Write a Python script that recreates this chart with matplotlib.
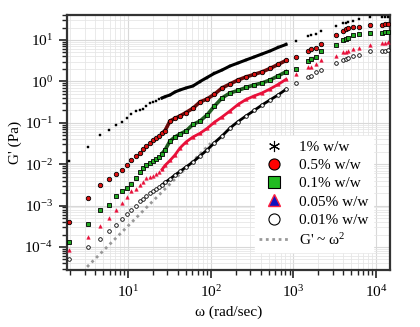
import matplotlib
matplotlib.use("Agg")
import matplotlib.pyplot as plt
from matplotlib.lines import Line2D
from matplotlib.ticker import LogLocator, NullFormatter

plt.rcParams["font.family"] = ["Liberation Serif", "DejaVu Serif"]
plt.rcParams["mathtext.fontset"] = "custom"
plt.rcParams["mathtext.rm"] = "Liberation Serif"
plt.rcParams["mathtext.it"] = "Liberation Serif:italic"

# frecuencias (rad/s): barrido bajo, zona densa, zona alta
omega = [1.95, 3.26, 4.55, 5.85, 7.1, 8.4, 9.73, 11.0, 12.4, 13.8, 15.2, 16.7, 18.5, 20.1, 21.8, 23.7, 25.8,
         28, 32.2, 37, 42.5, 50.3, 61, 74.2, 90.2, 110, 137, 171, 214, 267, 334, 417, 521, 651, 814,
         1070, 1520, 1630, 1850, 2160, 3230, 3930, 4270, 4570, 5260, 6130, 8430, 11600, 12800, 13900]

g_1 = [0.0122, 0.026, 0.0507, 0.067, 0.0885, 0.1045, 0.128, 0.163, 0.19, 0.204, 0.219, 0.255, 0.296, 0.318, 0.342, 0.37, 0.397,
       0.427, 0.469, 0.555, 0.62, 0.693, 0.774, 0.99, 1.24, 1.55, 1.88, 2.35, 2.78, 3.29, 3.88, 4.59, 5.42, 6.59, 7.79,
       9.3, 12.3, 13.0, 14.0, 16.5, 22.1, 25.3, 26.2, 27.2, 28.8, 31.3, 34.9, 35.3, 35.9, 35.9]
g_05 = [3.95e-4, 1.55e-3, 3.2e-3, 4.47e-3, 5.7e-3, 7.24e-3, 9.57e-3, 0.0126, 0.0162, 0.019, 0.0233, 0.0275, 0.032, 0.0374, 0.043, 0.048, 0.0557,
        0.0645, 0.11, 0.128, 0.146, 0.177, 0.224, 0.318, 0.376, 0.483, 0.693, 0.865, 1.08, 1.28, 1.47, 1.69, 2.05, 2.56, 3.2,
        3.82, 5.42, 5.96, 6.52, 8.2, 13.0, 16.8, 18.1, 19.0, 20.6, 20.9, 22.4, 23.4, 23.9, 23.9]
g_01 = [1.34e-4, 3.53e-4, 7.7e-4, 1.06e-3, 1.71e-3, 2.25e-3, 2.66e-3, 3.27e-3, 4.64e-3, 6.48e-3, 7.96e-3, 9.3e-3, 0.0107, 0.0119, 0.013, 0.0149, 0.0181,
        0.022, 0.0363, 0.0454, 0.0536, 0.0634, 0.091, 0.11, 0.154, 0.248, 0.397, 0.525, 0.603, 0.712, 0.819, 0.915, 1.08, 1.35, 1.71,
        2.0, 3.16, 3.42, 3.78, 5.27, 7.69, 9.84, 10.7, 11.4, 13.0, 13.7, 15.0, 15.0, 15.2, 15.2]
g_005 = [8.47e-5, 1.71e-4, 3.27e-4, 5.0e-4, 7.74e-4, 1.14e-3, 1.61e-3, 2.29e-3, 2.52e-3, 3.15e-3, 3.72e-3, 4.52e-3, 4.91e-3, 5.19e-3, 5.64e-3, 6.48e-3, 7.45e-3,
         9.3e-3, 0.0123, 0.0167, 0.0246, 0.0344, 0.0454, 0.0557, 0.0728, 0.102, 0.138, 0.193, 0.277, 0.365, 0.444, 0.525, 0.655, 0.842, 1.12,
         1.48, 2.23, 2.26, 2.68, 3.29, 4.18, 5.05, 5.21, 5.42, 6.06, 6.31, 7.57, 8.32, 8.6, 9.1]
g_001 = [4.99e-5, 1.0e-4, 1.56e-4, 2.5e-4, 3.49e-4, 4.74e-4, 6.27e-4, 7.83e-4, 9.78e-4, 1.26e-3, 1.48e-3, 1.71e-3, 1.96e-3, 2.19e-3, 2.45e-3, 2.81e-3, 3.15e-3,
         3.61e-3, 4.39e-3, 5.48e-3, 6.67e-3, 8.55e-3, 0.0113, 0.0158, 0.022, 0.0325, 0.048, 0.0748, 0.107, 0.146, 0.198, 0.269, 0.356, 0.469, 0.644,
         0.914, 1.28, 1.35, 1.69, 1.88, 2.73, 3.2, 3.42, 3.61, 4.11, 4.42, 5.33, 5.48, 5.48, 5.57]

# recta de referencia G' ~ w^2
fit_w = [3.2, 100]
fit_g = [3.3e-5, 3.2e-2]

labels = ["1% w/w", "0.5% w/w", "0.1% w/w", "0.05% w/w", "0.01% w/w", "G' ~ ω$^2$"]

fig = plt.figure(figsize=(4.2, 3.27), dpi=100)
ax = fig.add_axes([0.1595, 0.1743, 0.7691, 0.7797])
ax.set_xscale("log")
ax.set_yscale("log")

d0, d1 = 16, 35  # tramo denso del barrido

ax.plot(fit_w, fit_g, color="#999999", lw=2.0, dashes=(1.0, 1.3), zorder=2)

# zona densa como linea
ax.plot(omega[d0:d1], g_001[d0:d1], color="black", lw=2.0, zorder=3)
ax.plot(omega[d0:d1], g_005[d0:d1], color="#e8103a", lw=2.0, zorder=3)
ax.plot(omega[d0:d1], g_01[d0:d1], color="#1e5a1e", lw=2.6, zorder=3)
ax.plot(omega[d0:d1], g_05[d0:d1], color="#6a0a0a", lw=2.6, zorder=3)
ax.plot(omega[d0:d1], g_1[d0:d1], color="black", lw=2.2, zorder=3)

ax.plot(omega, g_001, ls="none", marker="o", ms=2.6, mfc="white", mec="black", mew=0.6, zorder=4)
ax.plot(omega, g_005, ls="none", marker="^", ms=2.6, mfc="#e8103a", mec="#e8103a", mew=0.3, zorder=4)
ax.plot(omega, g_01, ls="none", marker="s", ms=3.0, mfc="#22aa22", mec="black", mew=0.6, zorder=4)
ax.plot(omega, g_05, ls="none", marker="o", ms=3.2, mfc="#dd1111", mec="black", mew=0.6, zorder=4)
ax.plot(omega, g_1, ls="none", marker="s", ms=2.0, mfc="black", mec="black", mew=0.3, zorder=4)

ax.set_xlim(1.83, 14700)
ax.set_ylim(2.78e-5, 40)

ax.xaxis.set_major_locator(LogLocator(base=10, numticks=10))
ax.xaxis.set_minor_locator(LogLocator(base=10, subs=range(2, 10), numticks=20))
ax.xaxis.set_minor_formatter(NullFormatter())
ax.yaxis.set_major_locator(LogLocator(base=10, numticks=12))
ax.yaxis.set_minor_locator(LogLocator(base=10, subs=range(2, 10), numticks=20))
ax.yaxis.set_minor_formatter(NullFormatter())

ax.grid(True, which="major", color="#d8d8d8", lw=0.8)
ax.grid(True, which="minor", color="#e6e6e6", lw=0.6)
ax.set_axisbelow(True)

for s in ax.spines.values():
    s.set_color("#333333")
    s.set_linewidth(1.6)
ax.tick_params(which="major", direction="out", length=6, width=1.2, colors="#222222", labelsize=11,
               top=False, right=False, pad=4)
ax.tick_params(which="minor", direction="out", length=3.5, width=1.0, colors="#222222", top=False, right=False)
ax.tick_params(axis="both", labelcolor="black")

ax.set_xlabel("ω (rad/sec)", fontsize=11, labelpad=4)
ax.set_ylabel("G' (Pa)", fontsize=11, labelpad=2)

handles = [
    Line2D([], [], ls="none", marker=(6, 2, 0), ms=8, color="black", mew=0.8),
    Line2D([], [], ls="none", marker="o", ms=8, mfc="#ff0000", mec="black", mew=0.8),
    Line2D([], [], ls="none", marker="s", ms=8, mfc="#22bb22", mec="black", mew=0.8),
    Line2D([], [], ls="none", marker="^", ms=8, mfc="#1010c0", mec="#ff2040", mew=1.0),
    Line2D([], [], ls="none", marker="o", ms=8, mfc="white", mec="black", mew=0.8),
    Line2D([], [], color="#999999", lw=2.0, dashes=(1.0, 1.3)),
]
leg = ax.legend(handles, labels, loc="upper left", bbox_to_anchor=(0.557, 0.557), fontsize=11,
                frameon=True, fancybox=False, framealpha=1, edgecolor="white", facecolor="white",
                handlelength=2.0, labelspacing=0.3, borderpad=0.3, handletextpad=0.6)
leg.set_zorder(5)

fig.savefig("out.png", dpi=100)
